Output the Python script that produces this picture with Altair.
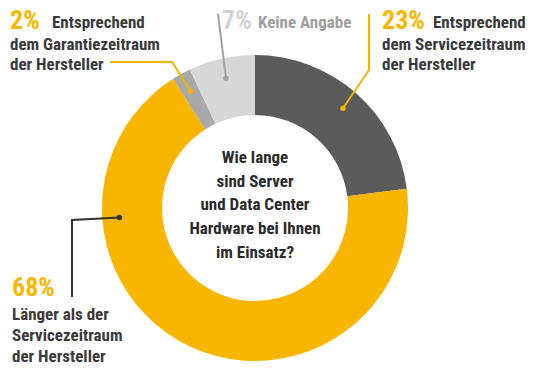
import math
import altair as alt
import pandas as pd

# ---- data ----
categories = [
    "Entsprechend dem Servicezeitraum der Hersteller",
    "Länger als der Servicezeitraum der Hersteller",
    "Entsprechend dem Garantiezeitraum der Hersteller",
    "Keine Angabe",
]
values = [23, 68, 2, 7]
pct_labels = ["23%", "68%", "2%", "7%"]
desc_lines = [
    ["Entsprechend", "dem Servicezeitraum", "der Hersteller"],
    ["Länger als der", "Servicezeitraum", "der Hersteller"],
    ["Entsprechend", "dem Garantiezeitraum", "der Hersteller"],
    ["Keine Angabe"],
]
center_lines = ["Wie lange", "sind Server", "und Data Center", "Hardware bei Ihnen", "im Einsatz?"]

# ---- style / layout ----
slice_colors = ["#5b5b5b", "#f8b600", "#a9a9a9", "#d7d7d7"]
pct_colors = ["#f8b600", "#f8b600", "#f8b600", "#d2d2d2"]
desc_colors = ["#3a3a3a", "#3a3a3a", "#3a3a3a", "#9e9e9e"]
leader_colors = ["#f2b400", "#333333", "#f2b400", "#a3a3a3"]
W, H = 524, 362
CX, CY = 247, 200
R_OUT, R_IN, R_DOT = 153, 93, 133
FONT = "Roboto Condensed"

label_layout = [
    dict(px=374, py=21, inline_x=425, dx=374, dy=42, gap=20, bends=[(361, 62), (361, 6)], anchor=None),
    dict(px=4, py=288, inline_x=None, dx=4, dy=312, gap=21, bends=[(64, 212), (64, 289)], anchor=(266, 136)),
    dict(px=2, py=21, inline_x=44, dx=2, dy=42, gap=20, bends=[(164, 54), (102, 54)], anchor=None),
    dict(px=214, py=21, inline_x=250, dx=None, dy=None, gap=20, bends=[(210, 6)], anchor=None),
]

# ---- build tables ----
total = sum(values)
arc_df = pd.DataFrame({"cat": categories, "value": values, "idx": list(range(len(values)))})

line_rows, dot_rows, text_rows = [], [], []
cum = 0
for i, v in enumerate(values):
    mid = (cum + v / 2) / total * 360
    cum += v
    lay = label_layout[i]
    ang, rad = (mid, R_DOT) if lay["anchor"] is None else lay["anchor"]
    a = math.radians(ang)
    dx0 = CX + rad * math.sin(a)
    dy0 = CY - rad * math.cos(a)
    pts = [(dx0, dy0)] + lay["bends"]
    for k, (x, y) in enumerate(pts):
        line_rows.append(dict(id=i, k=k, x=x, y=y, c=leader_colors[i]))
    dot_rows.append(dict(x=dx0, y=dy0, c=leader_colors[i]))
    text_rows.append(dict(x=lay["px"], y=lay["py"], t=pct_labels[i], c=pct_colors[i], s=26))
    lines = desc_lines[i]
    if lay["inline_x"] is not None:
        text_rows.append(dict(x=lay["inline_x"], y=20, t=lines[0], c=desc_colors[i], s=17))
        rest = lines[1:]
    else:
        rest = lines
    for j, ln in enumerate(rest):
        text_rows.append(dict(x=lay["dx"], y=lay["dy"] + j * lay["gap"], t=ln, c=desc_colors[i], s=17))

center_df = pd.DataFrame({"t": center_lines, "y": [155, 179, 202, 226, 250]})

line_df = pd.DataFrame(line_rows)
dot_df = pd.DataFrame(dot_rows)
text_df = pd.DataFrame(text_rows)

xs = alt.Scale(domain=[0, W], range=[0, W], nice=False, zero=False)
ys = alt.Scale(domain=[0, H], range=[0, H], nice=False, zero=False)

arc = alt.Chart(arc_df).mark_arc(outerRadius=R_OUT, innerRadius=R_IN).encode(
    theta=alt.Theta("value:Q", stack=True),
    order=alt.Order("idx:Q"),
    color=alt.Color("cat:N", scale=alt.Scale(domain=categories, range=slice_colors), legend=None),
    x=alt.value(CX),
    y=alt.value(CY),
)

leaders = alt.Chart(line_df).mark_line(strokeWidth=2).encode(
    x=alt.X("x:Q", scale=xs, axis=None),
    y=alt.Y("y:Q", scale=ys, axis=None),
    detail="id:N",
    order="k:Q",
    color=alt.Color("c:N", scale=None),
)

dots = alt.Chart(dot_df).mark_circle(size=30, opacity=1).encode(
    x=alt.X("x:Q", scale=xs, axis=None),
    y=alt.Y("y:Q", scale=ys, axis=None),
    color=alt.Color("c:N", scale=None),
)

texts = alt.Chart(text_df).mark_text(align="left", baseline="alphabetic", font=FONT, fontWeight="bold").encode(
    x=alt.X("x:Q", scale=xs, axis=None),
    y=alt.Y("y:Q", scale=ys, axis=None),
    text="t:N",
    color=alt.Color("c:N", scale=None),
    size=alt.Size("s:Q", scale=None),
)

center = alt.Chart(center_df).mark_text(align="center", baseline="alphabetic", font=FONT,
                                        fontWeight="bold", fontSize=17, color="#2a2a2a").encode(
    x=alt.value(CX),
    y=alt.Y("y:Q", scale=ys, axis=None),
    text="t:N",
)

chart = alt.layer(arc, leaders, dots, texts, center).properties(
    width=W, height=H, padding=0, background="white",
    autosize=alt.AutoSizeParams(type="none")
).configure_view(stroke=None)

chart.save("out.html", embed_options={"renderer": "svg", "actions": False})
